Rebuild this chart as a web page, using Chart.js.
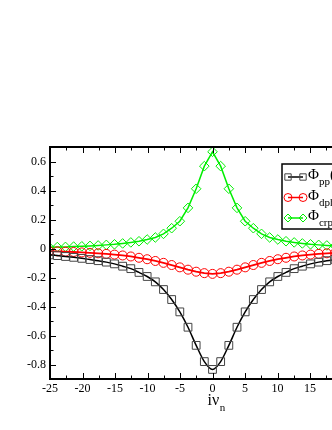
<!DOCTYPE html>
<html lang="en">
<head>
    <meta charset="UTF-8">
    <title>Phi vs i nu_n</title>
    <style>
        body {
            margin: 0;
            background: #fff;
            overflow: hidden;
        }
        #chart-container {
            position: absolute;
            left: 0;
            top: 0;
            width: 384px;
            height: 430px;
        }
    </style>
    <script src="https://cdn.jsdelivr.net/npm/chart.js"></script>
</head>
<body>
    <div id="chart-container">
        <canvas id="phiChart"></canvas>
    </div>

    <script>
        // bosonic Matsubara frequencies i nu_n, n = -20 .. 20
        const freq = [-25.133, -23.876, -22.619, -21.363, -20.106, -18.850, -17.593, -16.336, -15.080, -13.823,
                      -12.566, -11.310, -10.053, -8.796, -7.540, -6.283, -5.027, -3.770, -2.513, -1.257,
                      0,
                      1.257, 2.513, 3.770, 5.027, 6.283, 7.540, 8.796, 10.053, 11.310, 12.566,
                      13.823, 15.080, 16.336, 17.593, 18.850, 20.106, 21.363, 22.619, 23.876, 25.133];

        const phiPP = [-0.044, -0.049, -0.055, -0.061, -0.068, -0.076, -0.084, -0.094, -0.106, -0.122,
                       -0.139, -0.165, -0.193, -0.230, -0.283, -0.352, -0.437, -0.543, -0.668, -0.780,
                       -0.834,
                       -0.780, -0.668, -0.543, -0.437, -0.352, -0.283, -0.230, -0.193, -0.165, -0.139,
                       -0.122, -0.106, -0.094, -0.084, -0.076, -0.068, -0.061, -0.055, -0.049, -0.044];

        const phiDph = [-0.018, -0.020, -0.022, -0.024, -0.027, -0.030, -0.033, -0.037, -0.042, -0.048,
                        -0.055, -0.064, -0.074, -0.086, -0.099, -0.114, -0.130, -0.146, -0.160, -0.170,
                        -0.175,
                        -0.170, -0.160, -0.146, -0.130, -0.114, -0.099, -0.086, -0.074, -0.064, -0.055,
                        -0.048, -0.042, -0.037, -0.033, -0.030, -0.027, -0.024, -0.022, -0.020, -0.018];

        const phiCrp = [0.009, 0.010, 0.011, 0.013, 0.015, 0.018, 0.021, 0.025, 0.029, 0.035,
                        0.042, 0.050, 0.062, 0.076, 0.101, 0.140, 0.188, 0.280, 0.412, 0.568,
                        0.667,
                        0.568, 0.412, 0.280, 0.188, 0.140, 0.101, 0.076, 0.062, 0.050, 0.042,
                        0.035, 0.029, 0.025, 0.021, 0.018, 0.015, 0.013, 0.011, 0.010, 0.009];

        const xMajorTicks = [-25, -20, -15, -10, -5, 0, 5, 10, 15, 20, 25];
        const yMajorTicks = [-0.8, -0.6, -0.4, -0.2, 0, 0.2, 0.4, 0.6];

        const legendNames = [
            { sub: 'pp', color: '#000000', mark: '#444444', style: 'rect', r: 4.5 },
            { sub: 'dph', color: '#ff0000', mark: '#ff0000', style: 'circle', r: 4 },
            { sub: 'crp', color: '#00ee00', mark: '#00ee00', style: 'rectRot', r: 4 }
        ];

        const serif = '"Liberation Serif", "DejaVu Serif", serif';

        function toPoints(ys) {
            return freq.map((x, i) => ({ x: x, y: ys[i] }));
        }

        function isMajor(v, list) {
            return list.some(m => Math.abs(m - v) < 1e-6);
        }

        // frame, inward ticks, legend and axis title
        const decorations = {
            id: 'decorations',
            afterDraw(chart) {
                const ctx = chart.ctx;
                const a = chart.chartArea;
                const xs = chart.scales.x;
                const ys = chart.scales.y;
                ctx.save();
                ctx.strokeStyle = '#000';

                // ticks
                ctx.lineWidth = 1;
                ctx.beginPath();
                xs.ticks.forEach(t => {
                    const px = Math.round(xs.getPixelForValue(t.value)) + 0.5;
                    const len = isMajor(t.value, xMajorTicks) ? 6 : 3.5;
                    ctx.moveTo(px, a.bottom); ctx.lineTo(px, a.bottom - len);
                    ctx.moveTo(px, a.top); ctx.lineTo(px, a.top + len);
                });
                ys.ticks.forEach(t => {
                    const py = Math.round(ys.getPixelForValue(t.value)) + 0.5;
                    const len = isMajor(t.value, yMajorTicks) ? 6 : 3.5;
                    ctx.moveTo(a.left, py); ctx.lineTo(a.left + len, py);
                    ctx.moveTo(a.right, py); ctx.lineTo(a.right - len, py);
                });
                ctx.stroke();

                // frame
                ctx.lineWidth = 2;
                ctx.strokeRect(a.left, a.top, a.right - a.left, a.bottom - a.top);

                // legend box
                const bx = 282, by = 164;
                ctx.fillStyle = '#fff';
                ctx.fillRect(bx, by, 90, 65);
                ctx.lineWidth = 1.5;
                ctx.strokeRect(bx, by, 90, 65);

                const baselines = [179, 199.5, 220];
                legendNames.forEach((item, i) => {
                    const base = baselines[i];
                    const ly = base - 2;
                    ctx.strokeStyle = item.color;
                    ctx.lineWidth = 1.5;
                    ctx.beginPath();
                    ctx.moveTo(288, ly); ctx.lineTo(303, ly);
                    ctx.stroke();
                    ctx.lineWidth = 1;
                    ctx.strokeStyle = item.mark;
                    ctx.fillStyle = 'rgba(0,0,0,0)';
                    [288, 303].forEach(mx => {
                        Chart.helpers.drawPoint(ctx, { pointStyle: item.style, radius: item.r, rotation: 0, borderWidth: 1 }, mx, ly);
                    });
                    ctx.fillStyle = '#000';
                    ctx.textBaseline = 'alphabetic';
                    ctx.textAlign = 'left';
                    ctx.font = '15px ' + serif;
                    ctx.fillText('\u03A6', 308, base);
                    const w = ctx.measureText('\u03A6').width;
                    ctx.font = '11px ' + serif;
                    ctx.fillText(item.sub, 308 + w, base + 6);
                    const ws = ctx.measureText(item.sub).width;
                    ctx.font = '15px ' + serif;
                    ctx.fillText('(i\u03BD', 308 + w + ws, base);
                });

                // x-axis title
                ctx.fillStyle = '#000';
                ctx.font = '16px ' + serif;
                ctx.fillText('i\u03BD', 207.5, 405);
                const tw = ctx.measureText('i\u03BD').width;
                ctx.font = '11px ' + serif;
                ctx.fillText('n', 207.5 + tw + 0.5, 411);
                ctx.restore();
            }
        };

        const ctx = document.getElementById('phiChart').getContext('2d');
        new Chart(ctx, {
            type: 'line',
            data: {
                datasets: [
                    {
                        label: 'Phi_pp',
                        data: toPoints(phiPP),
                        borderColor: '#000000',
                        borderWidth: 1.5,
                        cubicInterpolationMode: 'monotone',
                        pointStyle: 'rect',
                        pointRadius: 5.5,
                        pointBorderColor: '#444444',
                        pointBorderWidth: 1,
                        pointBackgroundColor: 'rgba(0,0,0,0)',
                        clip: 0,
                        fill: false
                    },
                    {
                        label: 'Phi_dph',
                        data: toPoints(phiDph),
                        borderColor: '#ff0000',
                        borderWidth: 1.8,
                        tension: 0,
                        pointStyle: 'circle',
                        pointRadius: 4.5,
                        pointBorderColor: '#ff0000',
                        pointBorderWidth: 1,
                        pointBackgroundColor: 'rgba(0,0,0,0)',
                        clip: 0,
                        fill: false
                    },
                    {
                        label: 'Phi_crp',
                        data: toPoints(phiCrp),
                        borderColor: '#00ee00',
                        borderWidth: 1.5,
                        tension: 0,
                        pointStyle: 'rectRot',
                        pointRadius: 4.8,
                        pointBorderColor: '#00ee00',
                        pointBorderWidth: 1,
                        pointBackgroundColor: 'rgba(0,0,0,0)',
                        clip: 0,
                        fill: false
                    }
                ]
            },
            options: {
                responsive: true,
                maintainAspectRatio: false,
                animation: false,
                layout: { padding: { top: 147, right: 2, left: 0, bottom: 0 } },
                plugins: {
                    legend: { display: false },
                    tooltip: { enabled: false }
                },
                scales: {
                    x: {
                        type: 'linear',
                        min: -25,
                        max: 25,
                        grid: { display: false, drawTicks: false },
                        border: { display: false },
                        ticks: {
                            stepSize: 2.5,
                            autoSkip: false,
                            maxRotation: 0,
                            padding: 3,
                            color: '#000',
                            font: { family: serif, size: 12 },
                            callback: v => isMajor(v, xMajorTicks) ? String(Math.round(v)) : ''
                        },
                        afterFit: s => { s.height = 51; }
                    },
                    y: {
                        min: -0.9,
                        max: 0.7,
                        grid: { display: false, drawTicks: false },
                        border: { display: false },
                        ticks: {
                            stepSize: 0.1,
                            autoSkip: false,
                            padding: 4,
                            color: '#000',
                            font: { family: serif, size: 12 },
                            callback: v => {
                                if (!isMajor(v, yMajorTicks)) return '';
                                const r = Math.round(v * 10) / 10;
                                return r === 0 ? '0' : r.toFixed(1);
                            }
                        },
                        afterFit: s => { s.width = 50; }
                    }
                }
            },
            plugins: [decorations]
        });
    </script>
</body>
</html>
